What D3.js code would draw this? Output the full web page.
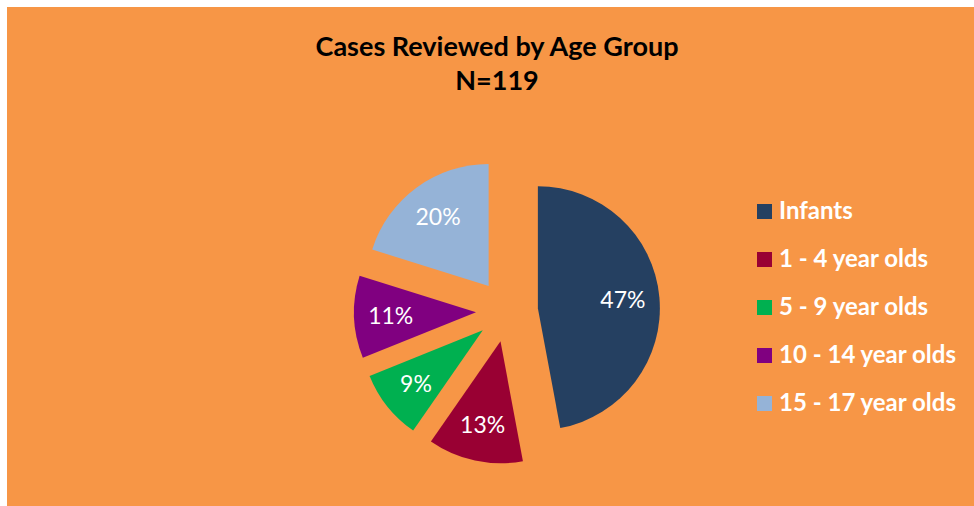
<!DOCTYPE html>
<html>
<head>
<meta charset="utf-8">
<script src="https://cdn.jsdelivr.net/npm/d3@7"></script>
<style>
  body { margin: 0; background: #ffffff; }
  text { font-family: Lato, "Open Sans", sans-serif; }
</style>
</head>
<body>
<div id="pie_chart"></div>
<script>
// chart data
var categories = ["Infants", "1 - 4 year olds", "5 - 9 year olds", "10 - 14 year olds", "15 - 17 year olds"];
var counts = [56, 15, 11, 13, 24];
var pctLabels = ["47%", "13%", "9%", "11%", "20%"];
var colors = ["#254061", "#990033", "#00B050", "#800080", "#95B3D7"];
var titleLines = ["Cases Reviewed by Age Group", "N=119"];

var width = 974, height = 506;
var radius = 122, explode = 31;
var cx = 507, cy = 311;

var svg = d3.select("#pie_chart")
    .append("svg")
    .attr("width", width)
    .attr("height", height);

// orange chart area
svg.append("rect")
    .attr("x", 7)
    .attr("y", 7)
    .attr("width", width - 7)
    .attr("height", height - 7)
    .attr("fill", "#F79646");

// title
svg.selectAll(".title")
    .data(titleLines)
    .enter()
    .append("text")
    .attr("class", "title")
    .attr("x", 497)
    .attr("y", function (d, i) { return 56 + i * 34; })
    .attr("text-anchor", "middle")
    .attr("font-size", "27px")
    .attr("font-weight", "bold")
    .attr("fill", "#000000")
    .text(function (d) { return d; });

var data = categories.map(function (c, i) {
    return { name: c, value: counts[i], label: pctLabels[i], color: colors[i] };
});

var pie = d3.pie()
    .sort(null)
    .value(function (d) { return d.value; });

var arc = d3.arc()
    .innerRadius(0)
    .outerRadius(radius);

var labelArc = d3.arc()
    .innerRadius(radius * 0.7)
    .outerRadius(radius * 0.7);

var g = svg.append("g")
    .attr("transform", "translate(" + cx + "," + cy + ")");

// each slice pushed out along its bisector
var slices = g.selectAll(".slice")
    .data(pie(data))
    .enter()
    .append("g")
    .attr("class", "slice")
    .attr("transform", function (d) {
        var a = (d.startAngle + d.endAngle) / 2;
        return "translate(" + (Math.sin(a) * explode) + "," + (-Math.cos(a) * explode) + ")";
    });

slices.append("path")
    .attr("d", arc)
    .attr("fill", function (d) { return d.data.color; });

slices.append("text")
    .attr("transform", function (d) { return "translate(" + labelArc.centroid(d) + ")"; })
    .attr("text-anchor", "middle")
    .attr("dy", "0.35em")
    .attr("font-size", "23px")
    .attr("fill", "#ffffff")
    .text(function (d) { return d.data.label; });

// legend
var legend = svg.selectAll(".legend")
    .data(data)
    .enter()
    .append("g")
    .attr("class", "legend")
    .attr("transform", function (d, i) { return "translate(757," + (204 + i * 48) + ")"; });

legend.append("rect")
    .attr("width", 15)
    .attr("height", 15)
    .attr("fill", function (d) { return d.color; });

legend.append("text")
    .attr("x", 22)
    .attr("y", 15)
    .attr("font-size", "24px")
    .attr("font-weight", "bold")
    .attr("fill", "#ffffff")
    .text(function (d) { return d.name; });
</script>
</body>
</html>
